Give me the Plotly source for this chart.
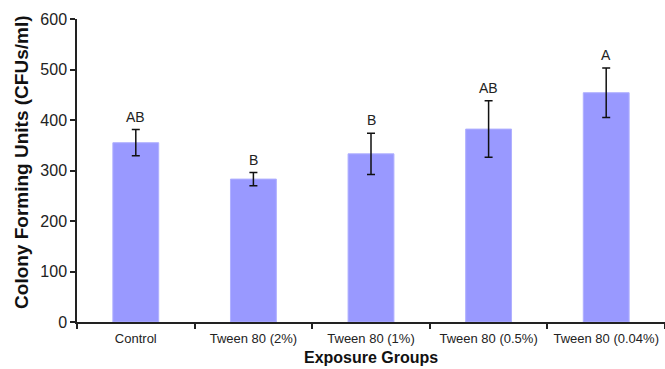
import plotly.graph_objects as go

categories = ["Control", "Tween 80 (2%)", "Tween 80 (1%)", "Tween 80 (0.5%)", "Tween 80 (0.04%)"]
means = [355, 283, 333, 382, 454]
errors = [26, 13, 41, 56, 49]
letters = ["AB", "B", "B", "AB", "A"]
y_ticks = [0, 100, 200, 300, 400, 500, 600]

FONT = "Liberation Sans, Arial, sans-serif"

fig = go.Figure()
fig.add_trace(go.Bar(
    x=categories, y=means,
    width=0.39,
    marker=dict(color="#9999ff", line=dict(color="#b0b0ff", width=1)),
    error_y=dict(type="data", array=errors, visible=True, color="#111111",
                 thickness=1.5, width=4),
    showlegend=False,
))

for c, m, e, t in zip(categories, means, errors, letters):
    fig.add_annotation(x=c, y=m + e, text=t, showarrow=False,
                       yanchor="bottom", yshift=3,
                       font=dict(family=FONT, size=14, color="#222222"))

# axis titles as annotations so they can sit exactly where the reference has them
fig.add_annotation(text="<b>Colony Forming Units (CFUs/ml)</b>", textangle=-90,
                   xref="paper", yref="paper", x=-0.0935, y=0.525,
                   xanchor="center", yanchor="middle", showarrow=False,
                   font=dict(family=FONT, size=19, color="#111111"))
fig.add_annotation(text="<b>Exposure Groups</b>",
                   xref="paper", yref="paper", x=0.5, y=-0.153,
                   xanchor="center", yanchor="bottom", showarrow=False,
                   font=dict(family=FONT, size=16, color="#111111"))

fig.update_layout(
    width=665, height=369,
    margin=dict(l=77, r=0, t=19, b=47),
    paper_bgcolor="white", plot_bgcolor="white",
    bargap=0.61,
)
fig.update_xaxes(
    automargin=False,
    showline=True, linecolor="#222222", linewidth=1.5,
    ticks="outside", tickson="boundaries", ticklen=5, tickcolor="#222222", tickwidth=1.5,
    ticklabelstandoff=4,
    tickfont=dict(family=FONT, size=13, color="#222222"),
    showgrid=False,
)
fig.update_yaxes(
    automargin=False,
    range=[0, 600], tickvals=y_ticks,
    showline=True, linecolor="#222222", linewidth=1.5,
    ticks="outside", ticklen=5, tickcolor="#222222", tickwidth=1.5,
    tickfont=dict(family=FONT, size=16, color="#222222"),
    showgrid=False, zeroline=False,
)

fig.write_html("out.html")
